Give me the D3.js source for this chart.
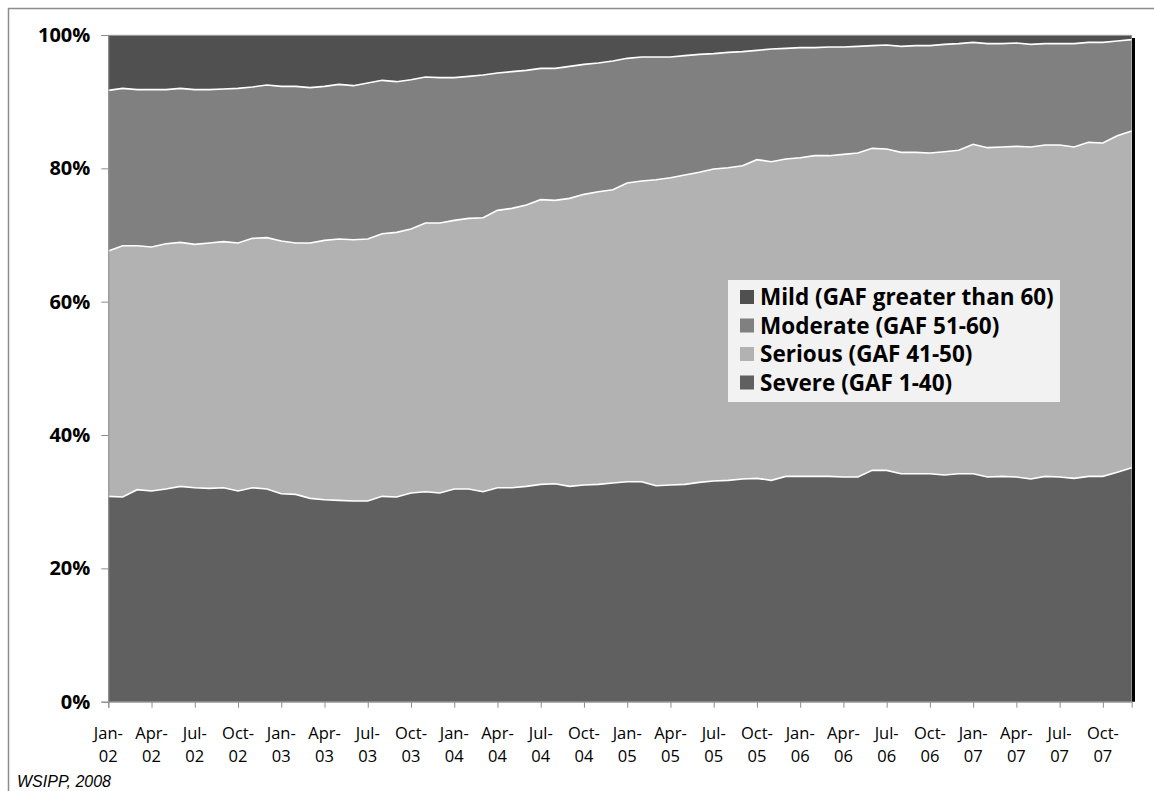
<!DOCTYPE html>
<html><head><meta charset="utf-8">
<script src="https://cdn.jsdelivr.net/npm/d3@7"></script>
<style>
html,body{margin:0;padding:0;background:#fff;}
svg{display:block;}
</style></head>
<body>
<svg id="chart" width="1154" height="791"></svg>
<script>
// Months Jan-02 .. Dec-07
const years = ["02","03","04","05","06","07"];
const monthNames = ["Jan","Feb","Mar","Apr","May","Jun","Jul","Aug","Sep","Oct","Nov","Dec"];
const months = [];
years.forEach(y => monthNames.forEach(m => months.push(m + "-" + y)));

// Shares (%) of each GAF category per month
const severe = [30.8,30.7,31.8,31.6,31.9,32.3,32.1,32.0,32.1,31.6,32.1,31.9,
  31.2,31.1,30.5,30.3,30.2,30.1,30.1,30.8,30.7,31.3,31.5,31.3,
  31.9,31.9,31.5,32.1,32.1,32.3,32.6,32.7,32.3,32.5,32.6,32.8,
  33.0,33.0,32.4,32.5,32.6,32.9,33.1,33.2,33.4,33.5,33.2,33.8,
  33.8,33.8,33.8,33.7,33.7,34.7,34.7,34.2,34.2,34.2,34.0,34.2,
  34.2,33.7,33.8,33.7,33.4,33.8,33.7,33.5,33.8,33.8,34.4,35.1];
const serious = [36.8,37.7,36.6,36.6,36.8,36.6,36.5,36.8,36.9,37.2,37.4,37.7,
  37.9,37.7,38.3,38.9,39.2,39.2,39.3,39.4,39.7,39.6,40.3,40.5,
  40.3,40.6,41.1,41.6,41.9,42.2,42.7,42.5,43.2,43.6,43.9,44.0,
  44.8,45.1,45.9,46.1,46.4,46.5,46.8,46.9,47.0,47.8,47.8,47.6,
  47.8,48.1,48.1,48.4,48.6,48.3,48.2,48.2,48.2,48.1,48.5,48.5,
  49.4,49.4,49.4,49.6,49.8,49.7,49.8,49.7,50.1,50.0,50.5,50.5];
const moderate = [24.1,23.6,23.4,23.6,23.1,23.1,23.2,23.0,22.9,23.2,22.7,22.9,
  23.2,23.5,23.3,23.1,23.2,23.1,23.4,23.0,22.6,22.4,21.9,21.8,
  21.4,21.3,21.4,20.6,20.5,20.2,19.7,19.8,19.8,19.5,19.3,19.3,
  18.7,18.6,18.4,18.1,17.9,17.7,17.3,17.3,17.1,16.4,16.9,16.6,
  16.5,16.2,16.3,16.1,16.0,15.4,15.6,15.9,16.0,16.1,16.1,16.0,
  15.3,15.6,15.5,15.5,15.4,15.2,15.2,15.5,15.0,15.1,14.2,13.7];
const mild = [8.3,8.0,8.2,8.2,8.2,8.0,8.2,8.2,8.1,8.0,7.8,7.5,
  7.7,7.7,7.9,7.7,7.4,7.6,7.2,6.8,7.0,6.7,6.3,6.4,
  6.4,6.2,6.0,5.7,5.5,5.3,5.0,5.0,4.7,4.4,4.2,3.9,
  3.5,3.3,3.3,3.3,3.1,2.9,2.8,2.6,2.5,2.3,2.1,2.0,
  1.9,1.9,1.8,1.8,1.7,1.6,1.5,1.7,1.6,1.6,1.4,1.3,
  1.1,1.3,1.3,1.2,1.4,1.3,1.3,1.3,1.1,1.1,0.9,0.7];

const seriesKeys = ["severe","serious","moderate","mild"];
const seriesLabels = {
  mild: "Mild (GAF greater than 60)",
  moderate: "Moderate (GAF 51-60)",
  serious: "Serious (GAF 41-50)",
  severe: "Severe (GAF 1-40)"
};
const legendOrder = ["mild","moderate","serious","severe"];
const yTicks = [0, 0.2, 0.4, 0.6, 0.8, 1.0];
const credit = "WSIPP, 2008";

const colors = {severe:"#606060", serious:"#b2b2b2", moderate:"#808080", mild:"#505050"};

const table = months.map((m,i) => ({month:m, i:i, severe:severe[i], serious:serious[i], moderate:moderate[i], mild:mild[i]}));

const svg = d3.select("#chart");
const pLeft = 108.3, pRight = 1131.7, pTop = 35, pBottom = 701.7;

// outer frame
svg.append("rect").attr("x",8.5).attr("y",8.5).attr("width",1170).attr("height",800)
  .attr("fill","none").attr("stroke","#8c8c8c").attr("stroke-width",1.5);

const x = d3.scaleLinear().domain([0, months.length-1]).range([pLeft, pRight]);
const y = d3.scaleLinear().domain([0,1]).range([pBottom, pTop]);

const stack = d3.stack().keys(seriesKeys).offset(d3.stackOffsetExpand);
const layers = stack(table);

const area = d3.area().x((d,i)=>x(i)).y0(d=>y(d[0])).y1(d=>y(d[1]));
const topLine = d3.line().x((d,i)=>x(i)).y(d=>y(d[1]));

svg.append("g").selectAll("path").data(layers).join("path")
  .attr("d", area).attr("fill", d=>colors[d.key]);
svg.append("g").selectAll("path").data(layers.slice(0,3)).join("path")
  .attr("d", topLine).attr("fill","none").attr("stroke","#ffffff").attr("stroke-width",1.6);

// top edge light line
svg.append("line").attr("x1",pLeft).attr("x2",pRight).attr("y1",pTop).attr("y2",pTop)
  .attr("stroke","#d9d9d9").attr("stroke-width",1);

// right black edge
svg.append("line").attr("x1",pRight+1.8).attr("x2",pRight+1.8).attr("y1",pTop+3).attr("y2",pBottom)
  .attr("stroke","#000").attr("stroke-width",3);

// Y axis
const yAxis = d3.axisLeft(y).tickValues(yTicks).tickSize(7).tickPadding(11).tickFormat(d3.format(".0%"));
const gy = svg.append("g").attr("transform",`translate(${pLeft},0)`).call(yAxis);
gy.select(".domain").attr("stroke","#8c8c8c");
gy.selectAll(".tick line").attr("stroke","#8c8c8c");
gy.selectAll(".tick text").attr("font-family","'Open Sans', sans-serif").attr("font-size","20px")
  .attr("font-weight","bold").attr("fill","#000");

// X axis
const xTickIdx = d3.range(0, months.length, 3);
const xAxis = d3.axisBottom(x).tickValues(xTickIdx).tickSize(6).tickFormat("");
const gx = svg.append("g").attr("transform",`translate(0,${pBottom})`).call(xAxis);
gx.select(".domain").attr("stroke","#8c8c8c");
gx.selectAll(".tick line").attr("stroke","#8c8c8c");
const xl = svg.append("g").selectAll("text").data(xTickIdx).join("text")
  .attr("x", d=>x(d)).attr("text-anchor","middle")
  .attr("font-family","'Open Sans', sans-serif").attr("font-size","16.5px").attr("fill","#000");
xl.append("tspan").attr("x",d=>x(d)).attr("y",739).text(d=>months[d].split("-")[0]+"-");
xl.append("tspan").attr("x",d=>x(d)).attr("y",762).text(d=>months[d].split("-")[1]);

// Legend
const lg = svg.append("g");
lg.append("rect").attr("x",728).attr("y",280).attr("width",332).attr("height",122).attr("fill","#f2f2f2");
const li = lg.selectAll("g").data(legendOrder).join("g")
  .attr("transform",(d,i)=>`translate(740,${297 + i*28.5})`);
li.append("rect").attr("x",0).attr("y",-7).attr("width",14).attr("height",14).attr("fill",d=>colors[d]);
li.append("text").attr("x",20).attr("y",0).attr("dy","0.36em")
  .attr("font-family","'Open Sans', sans-serif").attr("font-size","22.5px").attr("font-weight","bold")
  .attr("fill","#000").text(d=>seriesLabels[d]);

// credit
svg.append("text").attr("x",17).attr("y",787).attr("font-family","'Liberation Sans', Arial, sans-serif")
  .attr("font-style","italic").attr("font-size","16px").attr("fill","#000").text(credit);
</script>
</body></html>
